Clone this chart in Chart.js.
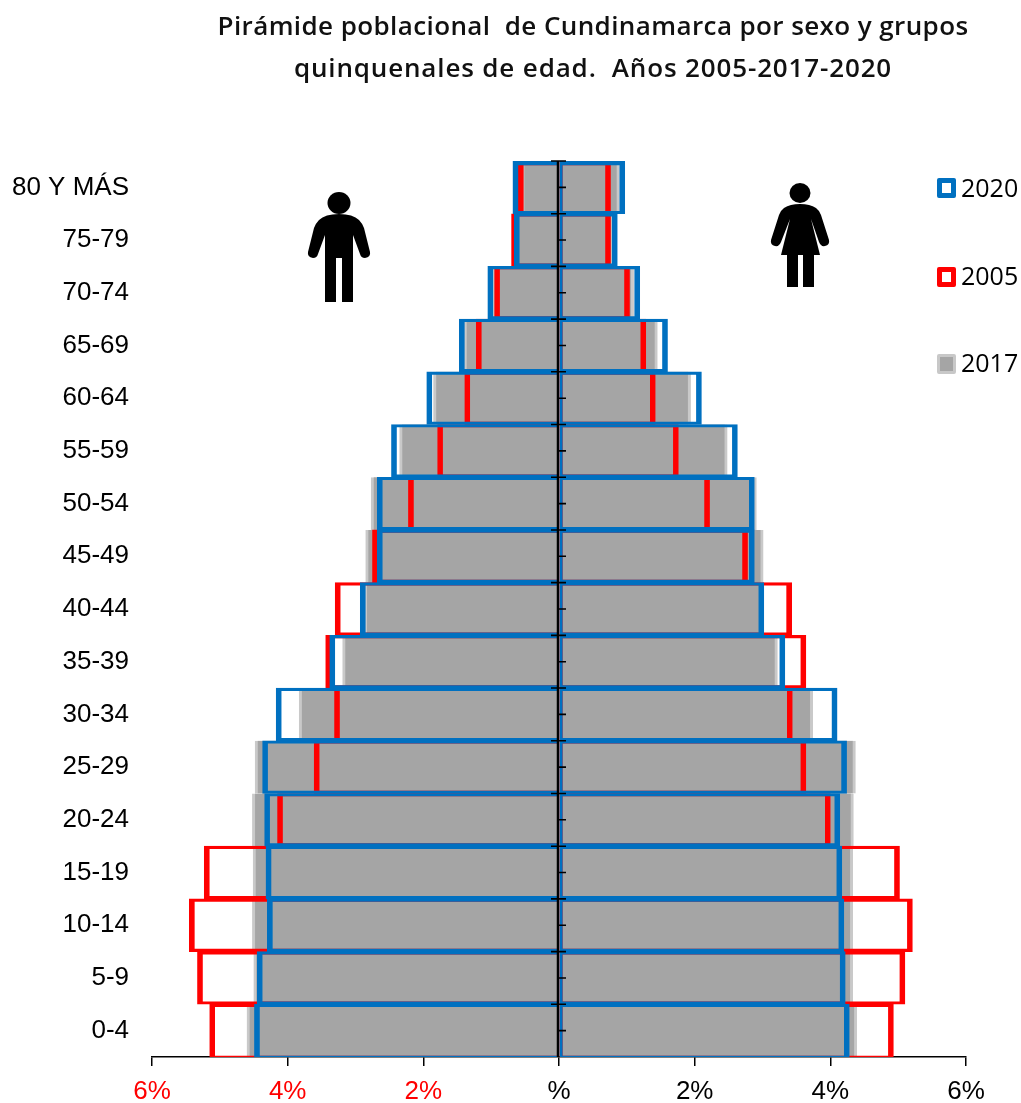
<!DOCTYPE html>
<html><head><meta charset="utf-8">
<script src="https://cdn.jsdelivr.net/npm/chart.js@4"></script>
<style>
html,body{margin:0;padding:0;background:#fff;overflow:hidden}
#wrap{position:relative;width:1021px;height:1103px}
canvas{position:absolute;left:0;top:0}
#title{position:absolute;left:193px;width:800px;top:4px;text-align:center;font:600 26px/42px "Open Sans",sans-serif;color:#111}
#title span{letter-spacing:.85px}
.lg{position:absolute;left:961px;font:25px/30px "Open Sans",sans-serif;color:#000}
.sw{position:absolute;left:937px;width:19px;height:20px;box-sizing:border-box;border-radius:2px}
svg{position:absolute}
</style></head><body>
<div id="wrap">
<canvas id="c" width="1021" height="1103"></canvas>
<div id="title"><span style="letter-spacing:.4px">Pirámide poblacional&nbsp; de Cundinamarca por sexo y grupos</span><br><span>quinquenales de edad.&nbsp; Años 2005-2017-2020</span></div>
<div class="sw" style="top:178px;border:5px solid #0070c0"></div><div class="lg" style="top:172px">2020</div>
<div class="sw" style="top:267px;border:5px solid #ff0000"></div><div class="lg" style="top:260px">2005</div>
<div class="sw" style="top:354px;background:#a5a5a5;border:3px solid #c8c8c8"></div><div class="lg" style="top:347px">2017</div>
<svg style="left:305px;top:190px" width="68" height="114" viewBox="0 0 68 114"><ellipse cx="34" cy="13" rx="11.5" ry="11"/><path d="M14 30Q20 24 34 24Q48 24 54 30Q57 33 59 38L65 62Q66 67 60 68Q56 68 55 64L48 45L48 112L37 112L37 68L31 68L31 112L20 112L20 45L13 64Q12 68 8 68Q2 67 3 62L9 38Q11 33 14 30Z"/></svg>
<svg style="left:770px;top:182px" width="60" height="108" viewBox="0 0 60 108"><ellipse cx="30" cy="11" rx="10.5" ry="10"/><path d="M14 26Q20 22 30 22Q40 22 46 26Q49 28 51 33L59 58Q60 63 55 64Q51 65 49 60L41 37L50 73L44 73L44 105L33 105L33 73L28 73L28 105L17 105L17 73L11 73L20 37L11 60Q9 65 5 64Q0 63 1 58L9 33Q11 28 14 26Z"/></svg>
</div>
<script>
const categories=['80 Y MÁS','75-79','70-74','65-69','60-64','55-59','50-54','45-49','40-44','35-39','30-34','25-29','20-24','15-19','10-14','5-9','0-4'];
const tickLabels=['6%','4%','2%','%','2%','4%','6%'];
const male2020=[0.68,0.66,1.05,1.47,1.95,2.47,2.68,2.68,2.93,3.38,4.17,4.37,4.34,4.32,4.30,4.45,4.49];
const female2020=[0.97,0.86,1.19,1.60,2.10,2.63,2.88,2.88,3.02,3.33,4.10,4.24,4.14,4.17,4.20,4.22,4.28];
const male2005=[0.60,0.70,0.95,1.22,1.39,1.79,2.22,2.75,3.30,3.44,3.31,3.61,4.15,5.23,5.45,5.33,5.15];
const female2005=[0.76,0.76,1.04,1.28,1.42,1.76,2.22,2.78,3.43,3.64,3.44,3.64,4.00,5.02,5.21,5.10,4.93];
const male2017=[0.55,0.68,0.99,1.40,1.85,2.35,2.77,2.85,2.87,3.19,3.83,4.48,4.52,4.51,4.52,4.50,4.60];
const female2017=[0.89,0.81,1.10,1.45,1.94,2.48,2.91,3.01,2.99,3.22,3.74,4.37,4.34,4.33,4.33,4.33,4.39];
const neg=a=>a.map(v=>-v);
const lastIdx=categories.length-1;
const bw=side=>ctx=>{
  const top=ctx.dataIndex===0?4:2.5,bottom=ctx.dataIndex===lastIdx?1:2.5;
  return side==='l'?{top,bottom,left:5,right:0}:{top,bottom,left:2.5,right:5};
};
function ds(label,data,side,border,bg,width){
  return {label,data:side==='l'?neg(data):data,grouped:false,barPercentage:1,categoryPercentage:1,
    backgroundColor:bg,borderColor:border,borderSkipped:false,borderWidth:width||bw(side)};
}
const centerAxis={id:'centerAxis',afterDatasetsDraw(ch){
  const {ctx,scales:{x,y}}=ch,x0=x.getPixelForValue(0);
  ctx.save();ctx.strokeStyle='#000';ctx.lineWidth=2.5;
  ctx.beginPath();ctx.moveTo(x0-1,ch.chartArea.top);ctx.lineTo(x0-1,ch.chartArea.bottom);ctx.stroke();
  ctx.lineWidth=1.6;ctx.beginPath();
  const n=categories.length;
  for(let i=0;i<n;i++){
    const c=y.getPixelForValue(i),h=y.getPixelForValue(1)-y.getPixelForValue(0);
    ctx.moveTo(x0-8,c-h/2);ctx.lineTo(x0+7,c-h/2);
    ctx.moveTo(x0,c);ctx.lineTo(x0+7,c);
  }
  ctx.stroke();ctx.restore();
}};
new Chart(document.getElementById('c'),{
  type:'bar',
  data:{labels:categories,datasets:[
    ds('2020',male2020,'l','#0070c0','rgba(0,0,0,0)'),
    ds('2020',female2020,'r','#0070c0','rgba(0,0,0,0)'),
    ds('2005',male2005,'l','#ff0000','rgba(0,0,0,0)'),
    ds('2005',female2005,'r','#ff0000','rgba(0,0,0,0)'),
    ds('2017',male2017,'l','#c9c9c9','#a5a5a5',{top:0,bottom:0,left:3,right:0}),
    ds('2017',female2017,'r','#c9c9c9','#a5a5a5',{top:0,bottom:0,left:0,right:3})
  ]},
  options:{
    indexAxis:'y',responsive:false,animation:false,
    layout:{padding:{left:0,right:55,top:161,bottom:0}},
    plugins:{legend:{display:false},title:{display:false},tooltip:{enabled:false}},
    scales:{
      x:{type:'linear',min:-6,max:6,
        afterFit(s){s.height=46},
        afterBuildTicks(s){s.ticks=[-6,-4,-2,0,2,4,6].map(value=>({value}))},
        border:{color:'#000',width:1.5},
        grid:{drawOnChartArea:false,drawTicks:true,tickLength:9,color:'#000',lineWidth:1.5},
        ticks:{autoSkip:false,maxRotation:0,padding:10,font:{family:'"Liberation Sans",Arial,sans-serif',size:26},
          callback(v,i){return tickLabels[i]},
          color(c){return c.tick.value<0?'#ff0000':'#000000'}}
      },
      y:{type:'category',offset:true,
        afterFit(s){s.width=152},
        grid:{display:false},border:{display:false},
        ticks:{autoSkip:false,padding:15,color:'#000',font:{family:'"Liberation Sans",Arial,sans-serif',size:26}}
      }
    }
  },
  plugins:[centerAxis]
});
</script>
</body></html>
